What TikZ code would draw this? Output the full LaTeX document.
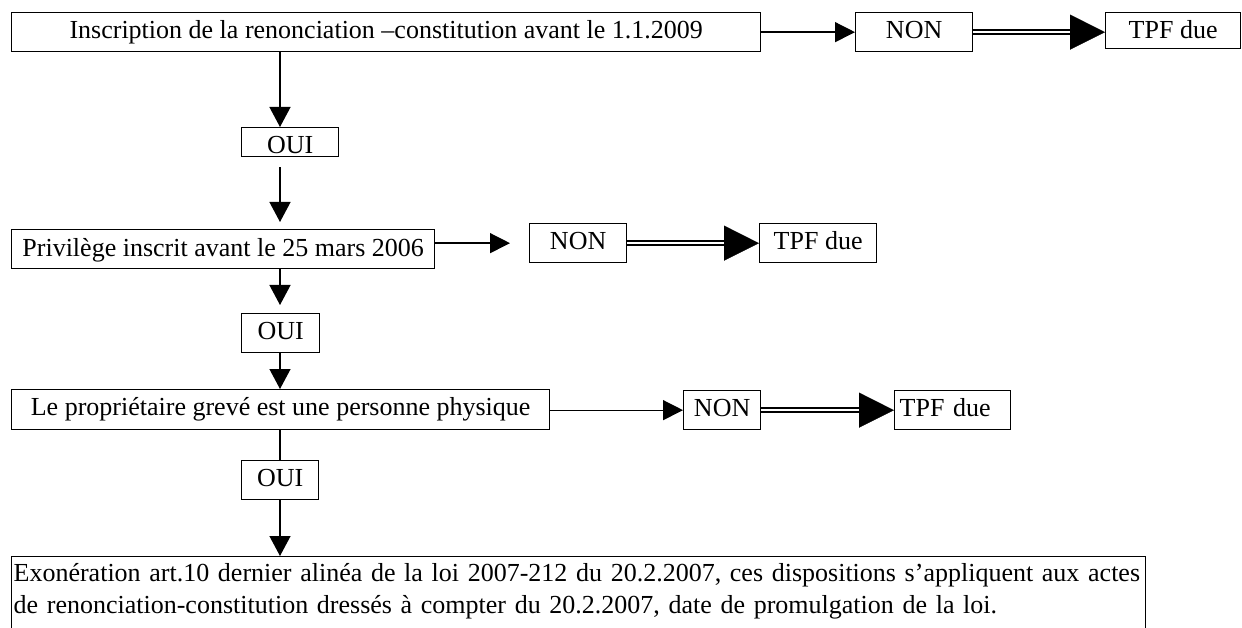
\documentclass[tikz,border=0pt]{standalone}
\usepackage{fontspec}
\setmainfont{Liberation Serif}
\usetikzlibrary{arrows.meta,calc}
\begin{document}
\begin{tikzpicture}[x=1pt,y=-1pt,
  bx/.style={draw, line width=1.3pt, inner sep=0pt, anchor=north west,
    font=\fontsize{26}{32}\selectfont, text height=19pt},
  ln/.style={line width=1.3pt},
  varr/.style={line width=1.3pt, -{Triangle[length=20pt,width=21pt]}},
  harr/.style={line width=1.3pt, -{Triangle[length=20pt,width=20pt]}},
  dbl/.style={line width=2pt, double=white, double distance=2pt},
  bighead/.style={line width=0.2pt, -{Triangle[length=35pt,width=35pt]}},
]
\useasboundingbox (0,0) rectangle (1242,628);
\clip (0,0) rectangle (1242,628);
\fill[white] (0,0) rectangle (1242,628);

% boxes
\node[bx, minimum width=749pt, minimum height=39pt, text depth=6pt] (top) at (11,12)
  {Inscription de la renonciation –constitution avant le 1.1.2009};
\node[bx, minimum width=117pt, minimum height=39pt, text depth=6pt] (non1) at (855,12) {NON};
\node[bx, minimum width=135pt, minimum height=36pt, text depth=3pt] (tpf1) at (1105,12) {TPF due};
\node[bx, minimum width=97pt, minimum height=29pt, text height=26pt, text depth=3pt] (oui1) at (241,127) {OUI};

\node[bx, minimum width=423pt, minimum height=39pt, text depth=4pt] (priv) at (11,229)
  {Privilège inscrit avant le 25 mars 2006};
\node[bx, minimum width=97pt, minimum height=39pt, text depth=7pt] (non2) at (529,223) {NON};
\node[bx, minimum width=117pt, minimum height=39pt, text depth=7pt] (tpf2) at (759,223) {TPF due};
\node[bx, minimum width=78pt, minimum height=39pt, text depth=7pt] (oui2) at (241,313) {OUI};

\node[bx, minimum width=538pt, minimum height=40pt, text depth=7pt] (prop) at (11,389)
  {Le propriétaire grevé est une personne physique};
\node[bx, minimum width=77pt, minimum height=39pt, text depth=6pt] (non3) at (683,390) {NON};
\node[bx, minimum height=39pt, text depth=6pt, text width=116pt, align=left] (tpf3) at (894,390)
  {\hspace*{5pt}TPF due};
\node[bx, minimum width=77pt, minimum height=39pt, text depth=7pt] (oui3) at (241,460) {OUI};

\node[bx, inner xsep=2pt, text width=1130pt, align=left, text height=25pt, text depth=62pt] (exo) at (11,556)
  {Exonération art.10 dernier alinéa de la loi 2007-212 du 20.2.2007, ces dispositions s’appliquent aux actes\\
   de renonciation-constitution dressés à compter du 20.2.2007, date de promulgation de la loi.};

% helper coordinates
\coordinate (vx) at (280,0);
\coordinate (h1) at ($(non1.east -| tpf1.west)+(-35,0)$);
\coordinate (h2) at ($(non2.east -| tpf2.west)+(-35,0)$);
\coordinate (h3) at ($(non3.east -| tpf3.west)+(-35,0)$);

% vertical connectors
\draw[varr] (top.south -| vx) -- (oui1.north -| vx);
\draw[varr, shorten <=10pt, shorten >=7pt] (oui1.south -| vx) -- (priv.north -| vx);
\draw[varr, shorten >=8pt] (priv.south -| vx) -- (oui2.north -| vx);
\draw[varr] (oui2.south -| vx) -- (prop.north -| vx);
\draw[ln] (prop.south -| vx) -- (oui3.north -| vx);
\draw[varr] (oui3.south -| vx) -- (exo.north -| vx);

% horizontal connectors
\draw[harr] (top.east) -- (non1.west);
\draw[dbl] (non1.east) -- (h1);
\draw[bighead] (h1) -- (non1.east -| tpf1.west);

\draw[harr, shorten >=19pt] (priv.east |- non2.west) -- (non2.west);
\draw[dbl] (non2.east) -- (h2);
\draw[bighead] (h2) -- (non2.east -| tpf2.west);

\draw[harr] (prop.east |- non3.west) -- (non3.west);
\draw[dbl] (non3.east) -- (h3);
\draw[bighead] (h3) -- (non3.east -| tpf3.west);
\end{tikzpicture}
\end{document}
